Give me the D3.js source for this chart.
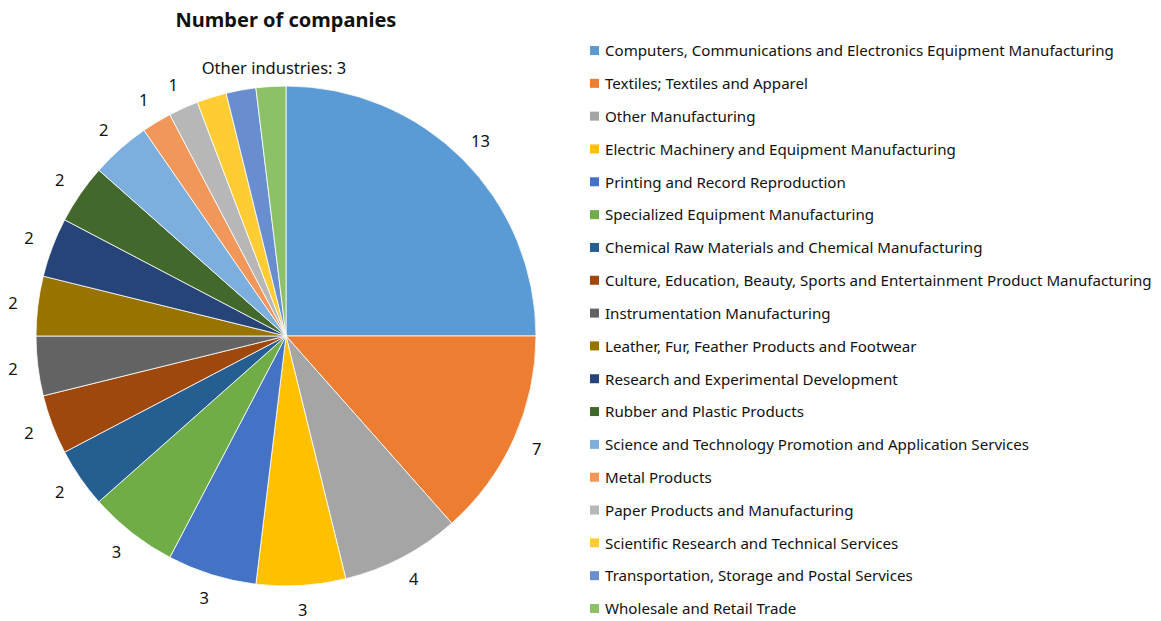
<!DOCTYPE html>
<html>
<head>
<meta charset="utf-8">
<script src="https://cdn.jsdelivr.net/npm/d3@7"></script>
<style>
  body { margin: 0; background: #fff; }
  text { font-family: "Noto Sans", "Open Sans", sans-serif; fill: #111; }
</style>
</head>
<body>
<div class="pie-figure"></div>
<script>
// industries and company counts
let industries = [
  "Computers, Communications and Electronics Equipment Manufacturing",
  "Textiles; Textiles and Apparel",
  "Other Manufacturing",
  "Electric Machinery and Equipment Manufacturing",
  "Printing and Record Reproduction",
  "Specialized Equipment Manufacturing",
  "Chemical Raw Materials and Chemical Manufacturing",
  "Culture, Education, Beauty, Sports and Entertainment Product Manufacturing",
  "Instrumentation Manufacturing",
  "Leather, Fur, Feather Products and Footwear",
  "Research and Experimental Development",
  "Rubber and Plastic Products",
  "Science and Technology Promotion and Application Services",
  "Metal Products",
  "Paper Products and Manufacturing",
  "Scientific Research and Technical Services",
  "Transportation, Storage and Postal Services",
  "Wholesale and Retail Trade"
];
let counts = [13, 7, 4, 3, 3, 3, 2, 2, 2, 2, 2, 2, 2, 1, 1, 1, 1, 1];

let colors = ["#5B9BD5", "#ED7D31", "#A5A5A5", "#FFC000", "#4472C4", "#70AD47",
  "#255E91", "#9E480E", "#636363", "#997300", "#264478", "#43682B",
  "#7CAFDD", "#F1975A", "#B7B7B7", "#FFCD33", "#698ED0", "#8CC168"];

// the last three slices share one label
let otherIndustries = 3;
let otherLabel = "Other industries: ";

let title = "Number of companies";

let width = 1161, height = 621;
let cx = 286, cy = 336, radius = 250;

let svg = d3.select(".pie-figure")
  .append("svg")
  .attr("width", width)
  .attr("height", height);

svg.append("text")
  .attr("x", cx)
  .attr("y", 27)
  .attr("text-anchor", "middle")
  .style("font-size", "20px")
  .style("font-weight", "bold")
  .text(title);

let data = industries.map((d, i) => ({name: d, value: counts[i]}));

let color = d3.scaleOrdinal()
  .domain(industries)
  .range(colors);

let pie = d3.pie().sort(null).value(d => d.value);
let arcs = pie(data);

let arc = d3.arc().innerRadius(0).outerRadius(radius);
let labelArc = d3.arc().innerRadius(275).outerRadius(275);

let g = svg.append("g")
  .attr("transform", "translate(" + cx + "," + cy + ")");

g.selectAll("path")
  .data(arcs)
  .enter()
  .append("path")
  .attr("d", arc)
  .style("fill", d => color(d.data.name))
  .style("stroke", "#fff")
  .style("stroke-width", 0.8);

let nOther = otherIndustries;
let labelled = arcs.slice(0, arcs.length - nOther);

g.selectAll(".lbl")
  .data(labelled)
  .enter()
  .append("text")
  .attr("class", "lbl")
  .attr("transform", d => "translate(" + labelArc.centroid(d) + ")")
  .attr("text-anchor", "middle")
  .attr("dy", "0.35em")
  .style("font-size", "16.5px")
  .text(d => d.data.value);

// combined label for the small slices at the top
let rest = arcs.slice(arcs.length - nOther);
let otherSum = d3.sum(rest, d => d.value);
let topArc = d3.arc().innerRadius(268).outerRadius(268);
let otherPos = topArc.centroid({startAngle: rest[rest.length - 1].endAngle - 0.045, endAngle: rest[rest.length - 1].endAngle - 0.045});
g.append("text")
  .attr("transform", "translate(" + otherPos + ")")
  .attr("text-anchor", "middle")
  .attr("dy", "0.35em")
  .style("font-size", "16.5px")
  .text(otherLabel + otherSum);

// legend
let legendY = d3.scalePoint()
  .domain(industries)
  .range([51, 609]);

let legend = svg.append("g")
  .attr("transform", "translate(590,0)");

let item = legend.selectAll(".item")
  .data(industries)
  .enter()
  .append("g")
  .attr("class", "item")
  .attr("transform", d => "translate(0," + legendY(d) + ")");

item.append("rect")
  .attr("x", 0)
  .attr("y", -5)
  .attr("width", 9)
  .attr("height", 9)
  .style("fill", d => color(d));

item.append("text")
  .attr("x", 15)
  .attr("dy", "0.35em")
  .style("font-size", "15.1px")
  .text(d => d);
</script>
</body>
</html>
